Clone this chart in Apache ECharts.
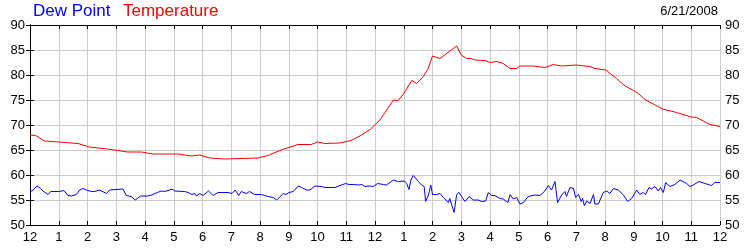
<!DOCTYPE html>
<html>
<head>
<meta charset="utf-8">
<script src="https://cdn.jsdelivr.net/npm/echarts@6/dist/echarts.min.js"></script>
<style>
html,body{margin:0;padding:0;background:#fff;}
#chart{width:750px;height:250px;}
</style>
</head>
<body>
<div id="chart"></div>
<script>
// Hours after midnight, 6/21/2008
const tempHours = [0,0.2,0.5,1.0,1.67,2.07,2.7,3.4,3.87,4.28,5.15,5.6,5.9,6.25,6.77,7.93,8.28,8.73,9.32,9.78,10.0,10.25,10.77,11.17,11.5,11.83,12.17,12.35,12.64,12.81,12.99,13.28,13.45,13.68,13.85,14.0,14.26,14.84,15.0,15.19,15.35,15.48,15.83,16.0,16.23,16.46,16.7,16.93,17.04,17.5,17.91,18.2,18.49,19.0,19.48,19.65,20.03,20.4,20.7,20.99,21.16,21.39,21.68,22.0,22.49,22.78,23.0,23.19,23.65,24];
const tempValues = [68,67.9,66.8,66.6,66.3,65.6,65.2,64.6,64.6,64.2,64.2,63.8,64.0,63.4,63.2,63.4,63.9,65.0,66.1,66.1,66.6,66.3,66.4,66.9,67.9,69.1,71,72.5,75,74.9,76.2,78.9,78.3,79.7,81.3,83.8,83.3,85.8,84,83.3,83.3,83.0,82.9,82.5,82.7,82.3,81.3,81.3,81.8,81.8,81.5,82.1,81.8,82,81.7,81.3,81.0,79.3,77.8,76.9,76.3,75.1,74.2,73.2,72.5,72.0,71.6,71.5,70.1,69.7];

const dewHours = [0,0.25,0.37,0.45,0.51,0.63,0.72,1.03,1.18,1.32,1.44,1.61,1.73,1.84,1.96,2.13,2.25,2.42,2.66,2.77,3.23,3.35,3.52,3.66,3.85,4.1,4.24,4.43,4.57,4.68,4.8,4.94,5.03,5.38,5.5,5.63,5.73,5.79,5.9,6.02,6.21,6.37,6.54,6.71,6.89,7.03,7.14,7.26,7.35,7.52,7.64,7.81,8.05,8.16,8.29,8.46,8.58,8.7,8.81,8.9,9.01,9.16,9.33,9.45,9.62,9.74,9.91,10.15,10.26,10.61,10.78,10.98,11.1,11.25,11.42,11.54,11.65,11.83,11.94,12.09,12.29,12.4,12.64,12.81,12.87,13.02,13.1,13.18,13.25,13.33,13.51,13.62,13.71,13.76,13.86,13.94,14.0,14.15,14.26,14.38,14.44,14.55,14.6,14.75,14.84,14.92,15.01,15.13,15.27,15.42,15.59,15.71,15.77,15.85,15.94,16.06,16.17,16.35,16.46,16.62,16.7,16.81,16.93,17.04,17.16,17.33,17.56,17.74,17.89,18.03,18.14,18.26,18.35,18.49,18.61,18.66,18.78,18.9,18.98,19.08,19.17,19.22,19.28,19.36,19.48,19.6,19.65,19.77,19.94,20.06,20.17,20.29,20.46,20.64,20.79,20.93,21.1,21.21,21.33,21.41,21.53,21.62,21.74,21.85,21.93,22.03,22.11,22.26,22.43,22.61,22.84,22.96,23.07,23.27,23.59,23.7,23.82,24];
const dewValues = [56.5,57.8,57.3,56.8,57,56.1,56.7,56.7,56.9,55.9,55.8,56.1,57,57.3,57,56.7,56.7,57,56.3,57,57.2,55.9,55.7,55,55.8,55.8,56,56.5,56.8,56.7,56.9,57.2,56.8,56.7,56.5,56.1,56.3,55.8,56.3,55.9,56.8,55.9,56.5,56.5,56.5,56.3,57,55.9,56.7,56.3,56.7,56.1,56.1,55.9,55.7,55.5,55,55.7,56.3,56.1,56.5,56.7,57.8,57.5,57,57,57.8,57.7,57.5,57.5,57.9,58.3,58.1,58.1,58,58.1,57.7,57.8,57.7,58.3,58.1,58,59,58.7,58.3,58.8,58.3,57.1,59,59.9,58.7,58,57.7,54.7,56,58,56.1,56.1,56.3,55.5,55.9,54.5,55.3,52.5,56.1,56.5,55.7,54.7,55.7,55,55,54.7,55,54.8,56.5,55.9,55.9,55.3,55.2,54.5,56.1,55.2,55.5,54.2,54.5,55.7,56,55.9,56.7,57.9,57,58.7,54.5,56,56.7,55.7,57.5,57.3,55.5,56.1,54.7,55.3,53.9,54.8,54.3,56.1,54.2,54.2,56.5,56.8,56.3,57.3,57,56,54.7,55.3,57,56.1,56.5,56.1,57.5,57.2,57.7,56.8,57.5,56.5,58.5,57.7,58.1,59,58.3,57.7,58,58.7,58.1,57.9,58.5,58.5];

const hourLabels = ['12','1','2','3','4','5','6','7','8','9','10','11','12','1','2','3','4','5','6','7','8','9','10','11','12'];
const yTicks = [50,55,60,65,70,75,80,85,90];

const FONT = 'Liberation Sans, Arial, sans-serif';

const chart = echarts.init(document.getElementById('chart'), null, {renderer:'canvas'});

const xBase = {
  type:'value', min:0, max:24, interval:1,
  axisLine:{show:true, onZero:false, lineStyle:{color:'#000', width:1}},
  axisTick:{show:true, inside:true, length:4, lineStyle:{color:'#000'}},
  splitLine:{show:false}
};
const yBase = {
  type:'value', min:yTicks[0], max:yTicks[yTicks.length-1], interval:5,
  axisLine:{show:true, lineStyle:{color:'#000', width:1}},
  axisTick:{show:true, inside:true, length:4, lineStyle:{color:'#000'}},
  axisLabel:{color:'#000', fontFamily:FONT, fontSize:13, margin:5},
  splitLine:{show:false}
};

chart.setOption({
  animation:false,
  backgroundColor:'#fff',
  title:[
    {text:'Dew Point', left:33, top:3, padding:0, textStyle:{color:'#0000ff', fontFamily:FONT, fontSize:17, fontWeight:'normal'}},
    {text:'Temperature', left:123, top:3, padding:0, textStyle:{color:'#ff0000', fontFamily:FONT, fontSize:17, fontWeight:'normal'}},
    {text:'6/21/2008', right:32, top:5, padding:0, textStyle:{color:'#000', fontFamily:FONT, fontSize:13, fontWeight:'normal'}}
  ],
  grid:{left:30, right:30, top:25, bottom:25, containLabel:false},
  xAxis:[
    Object.assign({}, xBase, {
      position:'bottom',
      splitLine:{show:true, lineStyle:{color:'#cccccc', width:1}},
      axisLabel:{color:'#000', fontFamily:FONT, fontSize:13, margin:6,
        showMinLabel:true, showMaxLabel:true,
        formatter:(v)=>hourLabels[Math.round(v)]}
    }),
    Object.assign({}, xBase, {position:'top', axisLabel:{show:false}})
  ],
  yAxis:[
    Object.assign({}, yBase, {position:'left',
      splitLine:{show:true, lineStyle:{color:'#cccccc', width:1}}}),
    Object.assign({}, yBase, {position:'right'})
  ],
  series:[
    {name:'Temperature', type:'line', xAxisIndex:0, yAxisIndex:0, showSymbol:false,
      data:tempHours.map((h,i)=>[h,tempValues[i]]),
      lineStyle:{color:'#ff0000', width:1}, itemStyle:{color:'#ff0000'}},
    {name:'Dew Point', type:'line', xAxisIndex:0, yAxisIndex:0, showSymbol:false,
      data:dewHours.map((h,i)=>[h,dewValues[i]]),
      lineStyle:{color:'#0000ff', width:1}, itemStyle:{color:'#0000ff'}}
  ]
});
</script>
</body>
</html>
